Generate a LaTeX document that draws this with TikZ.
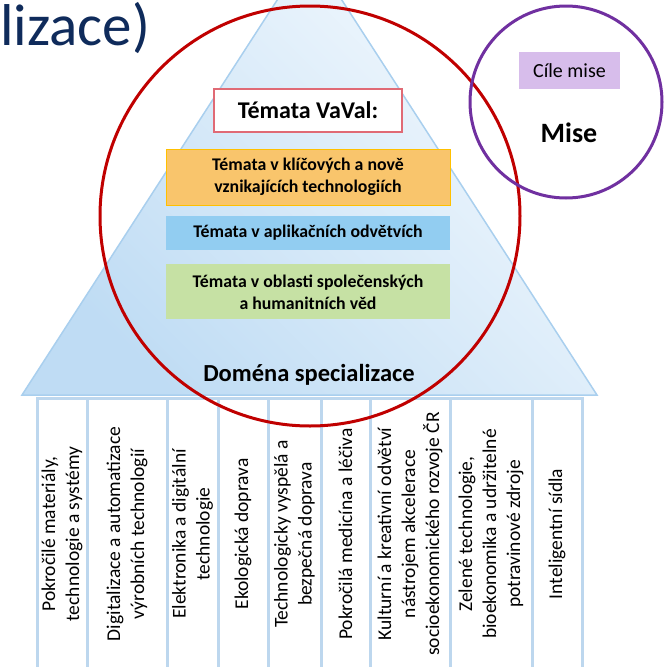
\documentclass[tikz,border=0pt]{standalone}
\usepackage{fontspec}
\setmainfont{Carlito}
\usetikzlibrary{positioning}

\definecolor{titleblue}{HTML}{0F2B5B}
\definecolor{ringred}{HTML}{C00000}
\definecolor{ringpurple}{HTML}{7030A0}
\definecolor{triedge}{HTML}{A9CFEE}
\definecolor{tridark}{HTML}{BFDCF4}
\definecolor{trilight}{HTML}{F5FAFE}
\definecolor{colline}{HTML}{BDD7EE}
\definecolor{vavaledge}{HTML}{E06A75}
\definecolor{orangefill}{HTML}{F9C56C}
\definecolor{orangeedge}{HTML}{FFC000}
\definecolor{bluefill}{HTML}{92CDF1}
\definecolor{greenfill}{HTML}{C6E1A4}
\definecolor{lilac}{HTML}{D7BDEB}

\begin{document}
\begin{tikzpicture}[
		x=1pt,y=-1pt,
		topic/.style={minimum width=284pt,align=flush center,inner sep=2pt,
			font=\bfseries\fontsize{17.8}{22}\selectfont},
		column/.style={draw=colline,line width=3pt,fill=white,rotate=90,
			minimum width=272pt,text width=262pt,align=flush center,inner sep=0pt,
			font=\fontsize{19.5}{24}\selectfont},
		ring/.style={circle,line width=3pt,inner sep=0pt}
		]
		\useasboundingbox (0,0) rectangle (667,667);
		% pyramid
		\shade[top color=trilight,bottom color=tridark,shading angle=-45,
			draw=triedge,line width=1.5pt]
		(309.5,-50) -- (22,395) -- (597,395) -- cycle;
		% columns of the domain
		\node[column,minimum height=50pt] (c1) at (62,534)
		{Pokročilé materiály,\\technologie a systémy};
		\node[column,minimum height=80pt] (c2) at (127,534)
		{Digitalizace a automatizace\\výrobních technologií};
		\node[column,minimum height=51pt] (c3) at (192.5,534)
		{Elektronika a digitální\\technologie};
		\node[column,minimum height=50pt] (c4) at (243,534)
		{Ekologická doprava};
		\node[column,minimum height=53pt] (c5) at (294.5,534)
		{Technologicky vyspělá a\\bezpečná doprava};
		\node[column,minimum height=49pt] (c6) at (345.5,534)
		{Pokročilá medicína a léčiva};
		\node[column,minimum height=80pt] (c7) at (410,534)
		{Kulturní a kreativní odvětví\\nástrojem akcelerace\\socioekonomického rozvoje ČR};
		\node[column,minimum height=82pt] (c8) at (491,534)
		{Zelené technologie,\\bioekonomika a udržitelné\\potravinové zdroje};
		\node[column,minimum height=50pt] (c9) at (557,534)
		{Inteligentní sídla};
		\node[font=\bfseries\fontsize{24.5}{28}\selectfont] (domain) at (309,375)
		{Doména specializace};
		% topics
		\node[draw=vavaledge,line width=1.5pt,fill=white,minimum width=188pt,
			minimum height=43pt,font=\bfseries\fontsize{24}{28}\selectfont] (vaval) at (308,110.5)
		{Témata VaVal:};
		\node[topic,fill=orangefill,draw=orangeedge,line width=1pt,minimum height=56pt,
			below=16pt of vaval] (keytech)
		{Témata v klíčových a nově\\vznikajících technologiích};
		\node[topic,fill=bluefill,minimum height=34pt,below=10pt of keytech] (applied)
		{Témata v aplikačních odvětvích};
		\node[topic,fill=greenfill,minimum height=55pt,below=14pt of applied] (social)
		{Témata v oblasti společenských\\a humanitních věd};
		% mission
		\node[fill=lilac,minimum width=101pt,minimum height=37pt,
			font=\fontsize{20}{24}\selectfont] (goals) at (569.5,70.5) {Cíle mise};
		\node[font=\bfseries\fontsize{28}{32}\selectfont] (mission) at (569,133) {Mise};
		% rings
		\node[ring,draw=ringred,minimum size=420pt] (vavalring) at (310,216) {};
		\node[ring,draw=ringpurple,minimum size=192pt] (missionring) at (566,102) {};
		% cut title
		\node[anchor=base west,inner sep=0pt,text=titleblue,
			font=\fontsize{59}{66}\selectfont] (title) at (0,45) {lizace)};
	\end{tikzpicture}
\end{document}
